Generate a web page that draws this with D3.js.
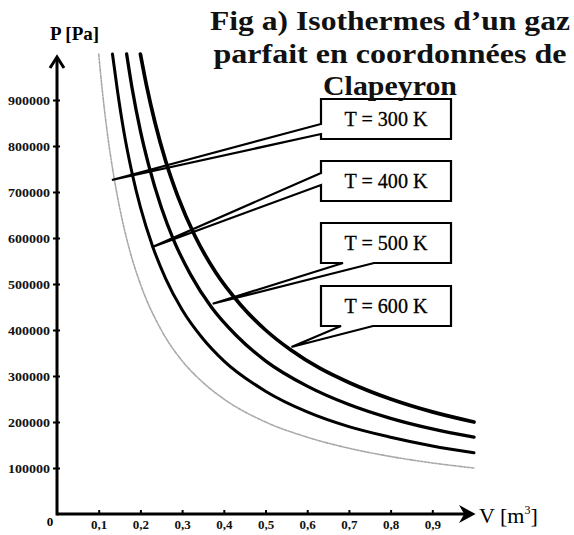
<!DOCTYPE html>
<html><head><meta charset="utf-8">
<script src="https://cdn.jsdelivr.net/npm/d3@7"></script>
<style>body{margin:0;background:#fff} svg{display:block} text{font-family:"Liberation Serif";}</style>
</head><body><svg id="c" width="574" height="535"></svg>
<script>
// ---- data ----
const xTicks = [0.1,0.2,0.3,0.4,0.5,0.6,0.7,0.8,0.9];
const yTicks = [100000,200000,300000,400000,500000,600000,700000,800000,900000];
const titleLines = ["Fig a) Isothermes d\u2019un gaz","parfait en coordonnées de","Clapeyron"];
const tempLabels = ["T = 300 K","T = 400 K","T = 500 K","T = 600 K"];
const V300 = [0.1,0.11,0.12,0.135,0.15,0.175,0.2,0.25,0.3,0.35,0.4,0.5,0.6,0.7,0.8,0.9,1.0];
const P300 = [1000000,909000,833000,741000,667000,571000,500000,400000,333000,286000,250000,200000,167000,143000,125000,111000,100000];
const V400 = [0.133,0.145,0.16,0.18,0.2,0.23,0.26,0.3,0.35,0.4,0.5,0.6,0.7,0.8,0.9,1.0];
const P400 = [1000000,920000,833000,741000,667000,580000,513000,444000,381000,333000,267000,222000,190000,167000,148000,133000];
const V500 = [0.167,0.18,0.2,0.22,0.25,0.28,0.32,0.37,0.43,0.5,0.6,0.7,0.8,0.9,1.0];
const P500 = [1000000,926000,833000,758000,667000,595000,521000,450000,388000,333000,278000,238000,208000,185000,167000];
const V600 = [0.2,0.215,0.235,0.26,0.29,0.33,0.38,0.44,0.5,0.56,0.63,0.7,0.8,0.9,1.0];
const P600 = [1000000,930000,851000,769000,690000,606000,526000,455000,400000,357000,317000,286000,250000,222000,200000];
const leadV = [0.1316,0.2273,0.3732,0.5622];
const leadP = [726000,580000,457000,363000];

// ---- layout ----
const svg = d3.select("#c");
const x = d3.scaleLinear().domain([0,1]).range([57,474]);
const y = d3.scaleLinear().domain([0,1000000]).range([514,54]);
const serif = "Liberation Serif";

const series = [
  {V:V300,P:P300,color:"#a8a8a8",w:1.6,dash:"3,1.5,1.2,1.5"},
  {V:V400,P:P400,color:"#000",w:3,dash:null},
  {V:V500,P:P500,color:"#000",w:3.3,dash:null},
  {V:V600,P:P600,color:"#000",w:3.7,dash:null}
];
const line = d3.line().x(d=>x(d[0])).y(d=>y(d[1])).curve(d3.curveMonotoneX);
series.forEach(s=>{
  svg.append("path").datum(s.V.map((v,i)=>[v,s.P[i]]))
    .attr("d",line).attr("fill","none").attr("stroke",s.color)
    .attr("stroke-width",s.w).attr("stroke-dasharray",s.dash)
    .attr("stroke-linecap","round");
});

// axes
const axG = svg.append("g");
const xAxis = axG.append("g").attr("transform",`translate(0,${y(0)})`)
  .call(d3.axisBottom(x).tickValues(xTicks).tickSize(-4).tickPadding(6)
    .tickFormat(d=>d3.format(".1f")(d).replace(".",",")));
const yAxis = axG.append("g").attr("transform",`translate(${x(0)},0)`)
  .call(d3.axisLeft(y).tickValues(yTicks).tickSize(4).tickPadding(3).tickFormat(d3.format("d")));
[xAxis,yAxis].forEach(g=>{
  g.attr("font-family",null);
  g.select(".domain").remove();
  g.selectAll(".tick line").attr("stroke","#000").attr("stroke-width",2);
  g.selectAll("text").style("font-family",serif).attr("font-weight","bold").attr("fill","#111");
});
yAxis.selectAll(".tick line").attr("x1",3);
xAxis.selectAll("text").attr("font-size",13);
yAxis.selectAll("text").attr("font-size",12.5).attr("textLength",42).attr("lengthAdjust","spacingAndGlyphs");

// axis lines with arrows
const x0=x(0), y0=y(0), xEnd=x(1), yEnd=57;
axG.append("path").attr("d",`M${x0},${y0} H${xEnd-4}`).attr("stroke","#000").attr("stroke-width",3);
axG.append("path").attr("d",`M${x0},${y0+1.5} V${yEnd+3}`).attr("stroke","#000").attr("stroke-width",3);
axG.append("path").attr("d",`M${x0-7},${yEnd+11} L${x0},${yEnd} L${x0+7},${yEnd+11}`)
  .attr("fill","none").attr("stroke","#000").attr("stroke-width",3).attr("stroke-linejoin","miter");
axG.append("path").attr("d",`M${xEnd-13},${y0-7} L${xEnd},${y0} L${xEnd-13},${y0+7} L${xEnd-9},${y0} Z`)
  .attr("fill","#000").attr("stroke","#000").attr("stroke-width",1.5);

axG.append("text").attr("x",x0-7).attr("y",y0+12).attr("text-anchor","middle")
  .style("font-family",serif).attr("font-weight","bold").attr("font-size",13).text("0");
axG.append("text").attr("x",50).attr("y",40).style("font-family",serif).attr("font-weight","bold")
  .attr("font-size",19).text("P [Pa]");
const vl = axG.append("text").attr("x",479).attr("y",523).style("font-family",serif)
  .attr("font-size",22).text("V [m");
vl.append("tspan").attr("dy",-9).attr("font-size",12).text("3");
vl.append("tspan").attr("dy",9).text("]");

// callout boxes
const boxes = [
  {y0:99, y1:139, side:"left", a:124, b:134},
  {y0:161,y1:201, side:"left", a:173, b:185},
  {y0:223,y1:263, side:"bottom", a:343, b:374},
  {y0:286,y1:326, side:"bottom", a:341, b:373}
];
const bx0=321, bx1=451;
boxes.forEach((b,i)=>{
  const tx=x(leadV[i]), ty=y(leadP[i]);
  const g=svg.append("g");
  g.append("rect").attr("x",bx0).attr("y",b.y0).attr("width",bx1-bx0).attr("height",b.y1-b.y0).attr("fill","#fff");
  let d;
  if(b.side==="left"){
    d=`M${bx0},${b.y0} H${bx1} V${b.y1} H${bx0} V${b.b} L${tx},${ty} L${bx0},${b.a} Z`;
  } else {
    d=`M${bx0},${b.y0} H${bx1} V${b.y1} H${b.b} L${tx},${ty} L${b.a},${b.y1} H${bx0} Z`;
  }
  g.append("path").attr("d",d).attr("fill","none").attr("stroke","#000").attr("stroke-width",2.2)
    .attr("stroke-linejoin","miter");
  g.append("text").attr("x",(bx0+bx1)/2).attr("y",(b.y0+b.y1)/2+7).attr("text-anchor","middle")
    .style("font-family",serif).attr("font-size",21).attr("textLength",83).attr("lengthAdjust","spacingAndGlyphs")
    .attr("fill","#000").attr("stroke","#000").attr("stroke-width",0.3).text(tempLabels[i]);
});

// title
const tl=[{y:30,w:360},{y:63,w:353},{y:95,w:134}];
titleLines.forEach((t,i)=>{
  svg.append("text").attr("x",390).attr("y",tl[i].y).attr("text-anchor","middle")
    .style("font-family",serif).attr("font-weight","bold").attr("font-size",28)
    .attr("textLength",tl[i].w).attr("lengthAdjust","spacingAndGlyphs").attr("fill","#111").text(t);
});
</script></body></html>
